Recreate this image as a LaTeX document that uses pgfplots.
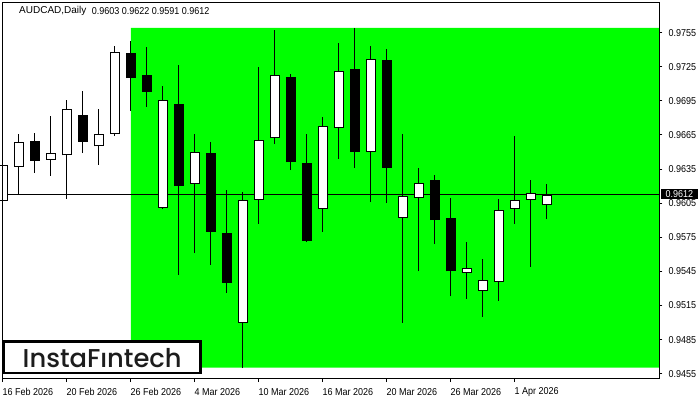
\documentclass[border=0pt]{standalone}
\usepackage{pgfplots}
\pgfplotsset{compat=1.18}
\usepackage{pgfplotstable}
\usepackage{graphicx}
\usepackage{fontspec}
\setmainfont{Liberation Sans}
\newfontfamily\mtfont{Liberation Sans}[FakeStretch=0.9]
\newfontfamily\logofont{Poppins Medium}
\definecolor{mtgreen}{RGB}{0,255,0}
\definecolor{logogray}{RGB}{28,28,28}
\newcommand{\mtsize}{\mtfont\fontsize{10bp}{11bp}\selectfont}

\pgfplotstableread{
i o h l c
0 0.9607 0.9655 0.9606 0.9639
1 0.9637 0.9666 0.9613 0.9659
3 0.9643 0.9682 0.9629 0.9649
4 0.9647 0.9696 0.9609 0.9688
6 0.9655 0.9688 0.9639 0.9666
7 0.9666 0.9743 0.9664 0.9738
10 0.9601 0.9708 0.9600 0.9696
12 0.9622 0.9666 0.9561 0.9650
15 0.9500 0.9615 0.9460 0.9608
16 0.9608 0.9725 0.9587 0.9661
17 0.9662 0.9757 0.9657 0.9718
20 0.9600 0.9681 0.9580 0.9673
21 0.9671 0.9746 0.9644 0.9721
23 0.9650 0.9743 0.9606 0.9732
25 0.9592 0.9666 0.9500 0.9611
26 0.9610 0.9636 0.9545 0.9623
29 0.9544 0.9571 0.9521 0.9548
30 0.9528 0.9556 0.9505 0.9537
31 0.9536 0.9609 0.9519 0.9599
32 0.9600 0.9664 0.9587 0.9608
33 0.9608 0.9625 0.9549 0.9614
34 0.9603 0.9622 0.9591 0.9612
}\bull

\pgfplotstableread{
i o h l c
2 0.9660 0.9667 0.9632 0.9642
5 0.9683 0.9704 0.9649 0.9659
8 0.9737 0.9748 0.9686 0.9715
9 0.9718 0.9742 0.9690 0.9703
11 0.9692 0.9727 0.9542 0.9620
13 0.9649 0.9659 0.9551 0.9580
14 0.9579 0.9617 0.9526 0.9535
18 0.9716 0.9719 0.9634 0.9641
19 0.9640 0.9666 0.9571 0.9572
22 0.9723 0.9759 0.9636 0.9650
24 0.9731 0.9741 0.9605 0.9636
27 0.9625 0.9630 0.9569 0.9590
28 0.9592 0.9610 0.9523 0.9545
}\bear

\begin{document}
\begin{tikzpicture}
\useasboundingbox (0,0) rectangle (700bp,400bp);
\begin{axis}[
  at={(2.5bp,21bp)}, anchor=south west,
  scale only axis, width=656.8bp, height=376.7bp,
  xmin=-0.03125, xmax=41.02, ymin=0.945033, ymax=0.978174,
  clip=false, axis on top,
  axis line style={black, line width=1bp},
  xtick={0,4,8,12,16,20,24,28,32},
  xticklabels={16 Feb 2026,20 Feb 2026,26 Feb 2026,4 Mar 2026,10 Mar 2026,16 Mar 2026,20 Mar 2026,26 Mar 2026,1 Apr 2026},
  ytick={0.9455,0.9485,0.9515,0.9545,0.9575,0.9605,0.9635,0.9665,0.9695,0.9725,0.9755},
  yticklabels={0.9455,0.9485,0.9515,0.9545,0.9575,0.9605,0.9635,0.9665,0.9695,0.9725,0.9755},
  xtick pos=left, ytick pos=right, yticklabel pos=right,
  tick align=outside, major tick length=3bp,
  tick style={black, line width=1bp},
  tick label style={font=\mtsize, text=black, inner sep=0pt},
  xticklabel style={anchor=west, xshift=-0.5bp, yshift=-10bp},
  yticklabel style={anchor=west, xshift=6bp},
]
% green zone
\addplot[fill=mtgreen, draw=none, forget plot] coordinates {(8,0.946027) (41.02,0.946027) (41.02,0.975914) (8,0.975914) (8,0.946027)};
% current price line
\addplot[black, line width=1bp, forget plot] coordinates {(-0.03125,0.9613) (41.02,0.9613)};
% wicks
\addplot[draw=none, mark=none, forget plot, error bars/.cd, y dir=plus, y explicit, error mark=none, error bar style={draw=black, line width=1bp}]
  table[x=i, y=l, y error plus expr=\thisrow{h}-\thisrow{l}] {\bull};
\addplot[draw=none, mark=none, forget plot, error bars/.cd, y dir=plus, y explicit, error mark=none, error bar style={draw=black, line width=1bp}]
  table[x=i, y=l, y error plus expr=\thisrow{h}-\thisrow{l}] {\bear};
% bull bodies: black outline then white fill
\addplot[draw=none, mark=none, forget plot, error bars/.cd, y dir=plus, y explicit, error mark=none, error bar style={draw=black, line width=10bp}]
  table[x=i, y=o, y error plus expr=\thisrow{c}-\thisrow{o}] {\bull};
\addplot[draw=none, mark=none, forget plot, error bars/.cd, y dir=plus, y explicit, error mark=none, error bar style={draw=white, line width=8bp}]
  table[x=i, y expr=\thisrow{o}+0.000088, y error plus expr=\thisrow{c}-\thisrow{o}-0.000176] {\bull};
% bear bodies
\addplot[draw=none, mark=none, forget plot, error bars/.cd, y dir=plus, y explicit, error mark=none, error bar style={draw=black, line width=10bp}]
  table[x=i, y=c, y error plus expr=\thisrow{o}-\thisrow{c}] {\bear};
% price label
\node[fill=black, text=white, anchor=west, inner xsep=4.5bp, inner ysep=1.5bp, xshift=1.7bp, font=\mtsize] at (axis cs:41.02,0.9613) {0.9612};
\end{axis}
% header
\node[anchor=west, inner sep=0pt, font=\fontsize{10bp}{11bp}\selectfont] at (19bp,389.3bp) {AUDCAD,Daily};
\node[anchor=west, inner sep=0pt, font=\mtsize] at (91.7bp,389.3bp) {0.9603 0.9622 0.9591 0.9612};
% logo
\draw[black, line width=2.7bp, fill=white] (4.05bp,27.05bp) rectangle (200.65bp,58.65bp);
\node[text=logogray, inner sep=0pt] at (102.2bp,41.5bp) {\resizebox{159bp}{!}{\logofont InstaFıntech}};
\end{tikzpicture}
\end{document}
